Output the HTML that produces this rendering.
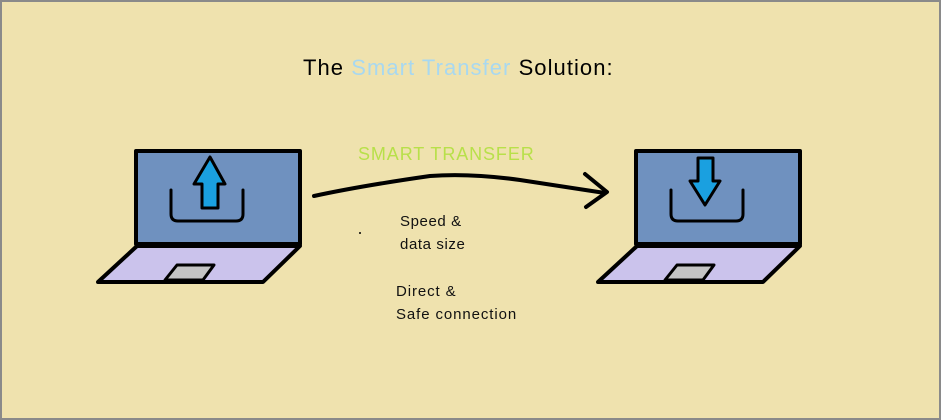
<!DOCTYPE html>
<html><head><meta charset="utf-8"><style>
html,body{margin:0;padding:0}
body{width:941px;height:420px;overflow:hidden;background:#efe2ae;font-family:"Liberation Sans",sans-serif}
.f{position:absolute;left:0;top:0;width:937px;height:416px;border:2px solid #8a8a8a}
.t{position:absolute;white-space:nowrap}
</style></head><body>
<div class="f"></div>
<div class="t" style="left:303px;top:55px;font-size:22px;letter-spacing:1.05px;color:#000">The <span style="color:#a8d8f0">Smart Transfer</span> Solution:</div>
<div class="t" style="left:358px;top:144px;font-size:18px;letter-spacing:0.9px;color:#b8e04a">SMART TRANSFER</div>
<div class="t" style="left:400px;top:210px;font-size:15px;letter-spacing:0.6px;line-height:23px;color:#111">Speed &amp;<br>data size</div>
<div class="t" style="left:396px;top:280px;font-size:15px;letter-spacing:0.9px;line-height:23px;color:#111">Direct &amp;<br>Safe connection</div>
<svg width="941" height="420" style="position:absolute;left:0;top:0" stroke-linejoin="round" stroke-linecap="round">
<g id="L">
<polygon points="137,246 300,246 263,282 98,282" fill="#cbc3ec" stroke="#000" stroke-width="4"/>
<polygon points="177,265 214,265 203,280 165,280" fill="#c4c4c4" stroke="#000" stroke-width="3"/>
<rect x="136" y="151" width="164" height="93" fill="#6f91bf" stroke="#000" stroke-width="4"/>
<path d="M171,190 V214 Q171,221 178,221 H236 Q243,221 243,214 V190" fill="none" stroke="#000" stroke-width="3"/>
</g>
<polygon points="210,157 225,184 218,184 218,208 202,208 202,184 194,184" fill="#1aa0e0" stroke="#000" stroke-width="3"/>
<use href="#L" x="500"/>
<polygon points="705,205 720,181 713,181 713,158 698,158 698,181 690,181" fill="#1aa0e0" stroke="#000" stroke-width="3"/>
<path d="M314,196 Q360,186 430,176 Q470,173 520,180 L605,193" fill="none" stroke="#000" stroke-width="4"/>
<path d="M585,174 L607,192 L586,207" fill="none" stroke="#000" stroke-width="4"/>
<circle cx="360" cy="233" r="1" fill="#000"/>
</svg>
</body></html>
